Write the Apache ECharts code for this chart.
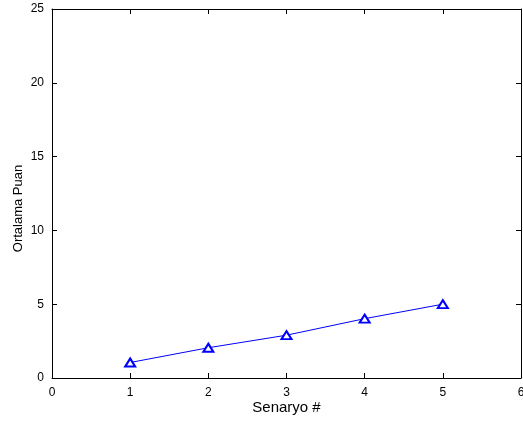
<!DOCTYPE html>
<html>
<head>
<meta charset="utf-8">
<script src="https://cdn.jsdelivr.net/npm/echarts@6/dist/echarts.min.js"></script>
<style>html,body{margin:0;padding:0;background:#fff;}#c{width:523px;height:429px;}</style>
</head>
<body>
<div id="c"></div>
<script>
const xValues = [1, 2, 3, 4, 5];
const yValues = [1.05, 2.05, 2.9, 4.02, 5.0];
const xLabel = 'Senaryo #';
const yLabel = 'Ortalama Puan';

const font = 'Liberation Sans, Arial, sans-serif';
const chart = echarts.init(document.getElementById('c'), null, {renderer: 'canvas'});
const axisCommon = {
  axisLine: {show: true, onZero: false, lineStyle: {color: '#000', width: 1}},
  axisTick: {show: true, inside: true, length: 5, lineStyle: {color: '#000'}},
  splitLine: {show: false}
};
chart.setOption({
  animation: false,
  grid: {left: 52, top: 9, right: 2, bottom: 51, containLabel: false, outerBoundsMode: 'none'},
  xAxis: [
    Object.assign({
      type: 'value', min: 0, max: 6, interval: 1, position: 'bottom',
      name: xLabel, nameLocation: 'middle', nameGap: 22, nameMoveOverlap: false,
      nameTextStyle: {fontFamily: font, fontSize: 15, color: '#000'},
      axisLabel: {fontFamily: font, fontSize: 12, color: '#000', margin: 9}
    }, axisCommon),
    Object.assign({
      type: 'value', min: 0, max: 6, interval: 1, position: 'top',
      axisLabel: {show: false}
    }, axisCommon)
  ],
  yAxis: [
    Object.assign({
      type: 'value', min: 0, max: 25, interval: 5, position: 'left',
      name: yLabel, nameLocation: 'middle', nameGap: 27, nameMoveOverlap: false,
      nameTextStyle: {fontFamily: font, fontSize: 13, color: '#000', padding: [0, 30, 0, 0]},
      axisLabel: {fontFamily: font, fontSize: 12, color: '#000', margin: 8}
    }, axisCommon),
    Object.assign({
      type: 'value', min: 0, max: 25, interval: 5, position: 'right',
      axisLabel: {show: false}
    }, axisCommon)
  ],
  series: [{
    type: 'line',
    data: xValues.map((x, i) => [x, yValues[i]]),
    symbol: 'emptyTriangle',
    symbolSize: [10, 8],
    lineStyle: {color: '#0000ff', width: 1},
    itemStyle: {color: '#0000ff', borderColor: '#0000ff', borderWidth: 0.8},
    showAllSymbol: true
  }]
});
</script>
</body>
</html>
